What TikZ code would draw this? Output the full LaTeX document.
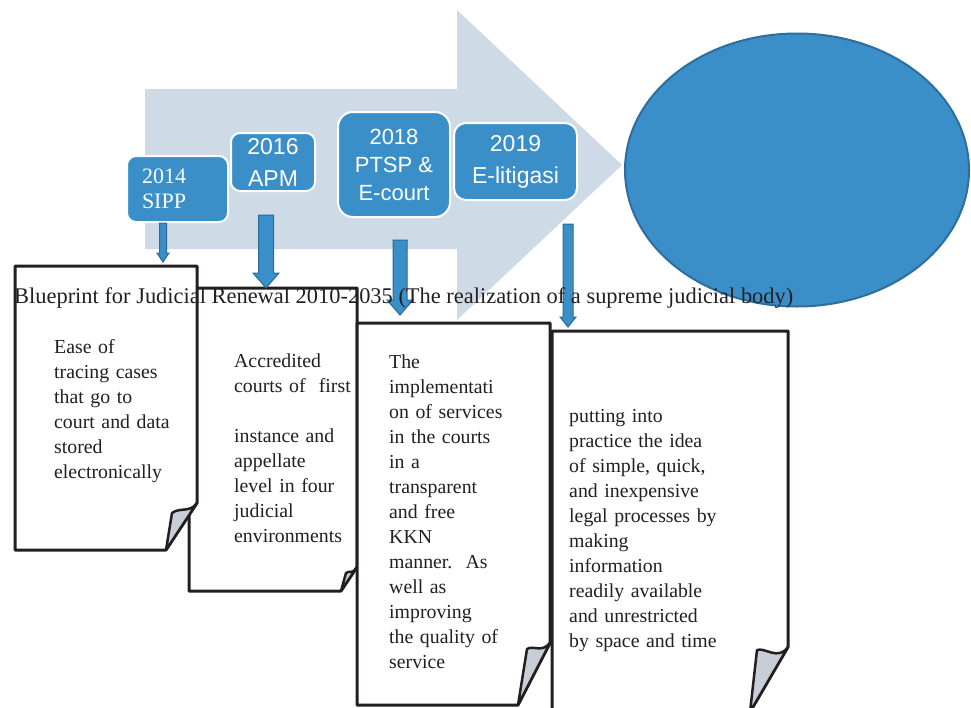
\documentclass[tikz,border=0pt]{standalone}
\usepackage{fontspec}
\usepackage{graphicx}
\setmainfont{Liberation Serif}
\newfontfamily\arialf{Liberation Sans}
\usetikzlibrary{calc,shapes.geometric}
\definecolor{bigarrow}{RGB}{206,218,230}
\definecolor{boxblue}{RGB}{58,143,201}
\definecolor{ellline}{RGB}{46,110,158}
\definecolor{arrline}{RGB}{44,104,152}
\definecolor{foldgray}{RGB}{200,206,215}
\definecolor{ink}{RGB}{35,31,32}
\tikzset{
  yearbox/.style={fill=boxblue, draw=white, line width=2pt, rounded corners=9pt, text=white, inner sep=0pt},
  notepage/.style={draw=ink, fill=white, line width=3pt, line join=round},
  notefold/.style={draw=ink, fill=foldgray, line width=2.5pt, line join=round},
  notetext/.style={anchor=base west, inner sep=0pt, text width=#1, align=left, text=ink, font=\fontsize{19.8}{25}\selectfont},
  blk/.style={fill=boxblue, draw=arrline, line width=1pt},
}
\newcommand\blockarr[5]{%
  \filldraw[blk] let \p1=(#1), \p2=(#2) in
  (\x1-#3pt,\y1) -- (\x1+#3pt,\y1) -- (\x1+#3pt,\y2+#5pt) -- (\x1+#4pt,\y2+#5pt)
  -- (\x2,\y2) -- (\x1-#4pt,\y2+#5pt) -- (\x1-#3pt,\y2+#5pt) -- cycle;}
\begin{document}
\begin{tikzpicture}[x=1pt,y=-1pt]
\useasboundingbox (0,0) rectangle (971,707);
\clip (0,0) rectangle (971,707);
% big background arrow
\fill[bigarrow] (145,89) -- (457,89) -- (457,10) -- (622,165) -- (457,320) -- (457,249) -- (145,249) -- cycle;
% goal ellipse
\node[ellipse, draw=ellline, fill=boxblue, line width=2pt, minimum width=344pt, minimum height=273pt, inner sep=0pt] (goal) at (797,170) {};
% year boxes
\node[yearbox, minimum width=101pt, minimum height=66pt, text width=71pt, inner xsep=15pt, align=left, font=\fontsize{22}{25}\selectfont] (y2014) at (177.5,189) {2014\\SIPP};
\node[yearbox, minimum width=84pt, minimum height=58pt, align=center, font=\arialf\fontsize{23}{32}\selectfont] (y2016) at (273,162) {2016\\APM};
\node[yearbox, rounded corners=15pt, minimum width=112pt, minimum height=105pt, align=center, font=\arialf\fontsize{22}{28}\selectfont] (y2018) at (394,164.5) {2018\\PTSP \&\\E-court};
\node[yearbox, rounded corners=12pt, minimum width=123pt, minimum height=77pt, align=center, font=\arialf\fontsize{23}{32}\selectfont] (y2019) at (515.5,161.5) {2019\\E-litigasi};
% notes (pages with curled corner)
\draw[notepage] (189,288) -- (357,288) -- (357,567) -- (341,591) -- (189,591) -- cycle;
\draw[notefold] (357,567) .. controls (353,575) and (349,570) .. (346,573) -- (341,591) -- cycle;
\draw[notepage] (15,266) -- (197,266) -- (197,503) -- (166,550) -- (15,550) -- cycle;
\draw[notefold] (197,503) .. controls (190,513) and (180,507) .. (172,513) -- (166,550) -- cycle;
\draw[notepage] (357,323) -- (550,323) -- (550,643) -- (518,705) -- (357,705) -- cycle;
\draw[notefold] (550,643) .. controls (542,653) and (533,645) .. (527,649) -- (518,705) -- cycle;
\draw[notepage] (552,331) -- (788,331) -- (788,647) -- (750,712) -- (552,712) -- cycle;
\draw[notefold] (788,647) .. controls (778,661) and (765,647) .. (757,650) -- (750,712) -- cycle;
% connectors
\coordinate (a1s) at (163,223); \coordinate (a1e) at (163,262);
\coordinate (a2s) at (266,215); \coordinate (a2e) at (266,288);
\coordinate (a3s) at (400,240); \coordinate (a3e) at (400,315);
\coordinate (a4s) at (568,224); \coordinate (a4e) at (568,327);
\blockarr{a1s}{a1e}{3.5}{6}{9}
\blockarr{a2s}{a2e}{7.5}{13}{15}
\blockarr{a3s}{a3e}{7}{13}{15}
\blockarr{a4s}{a4e}{5}{8}{10}
% note texts
\node[notetext=140pt] (t1) at (54,353) {Ease of\\tracing cases\\that go to\\court and data\\stored\\electronically};
\node[notetext=140pt] (t2) at (234,367) {Accredited\\courts of\ \ first\\~\\instance and\\appellate\\level in four\\judicial\\environments};
\node[notetext=160pt] (t3) at (389,368) {The\\implementati\\on of services\\in the courts\\in a\\transparent\\and free\\KKN\\manner.\ \ As\\well as\\improving\\the quality of\\service};
\node[notetext=215pt] (t4) at (569,422) {putting into\\practice the idea\\of simple, quick,\\and inexpensive\\legal processes by\\making\\information\\readily available\\and unrestricted\\by space and time};
% title
\node[anchor=base west, inner sep=0pt, text=ink, font=\fontsize{20}{24}\selectfont] (title) at (14,303) {\resizebox{779pt}{!}{Blueprint for Judicial Renewal 2010-2035 (The realization of a supreme judicial body)}};
\end{tikzpicture}
\end{document}
